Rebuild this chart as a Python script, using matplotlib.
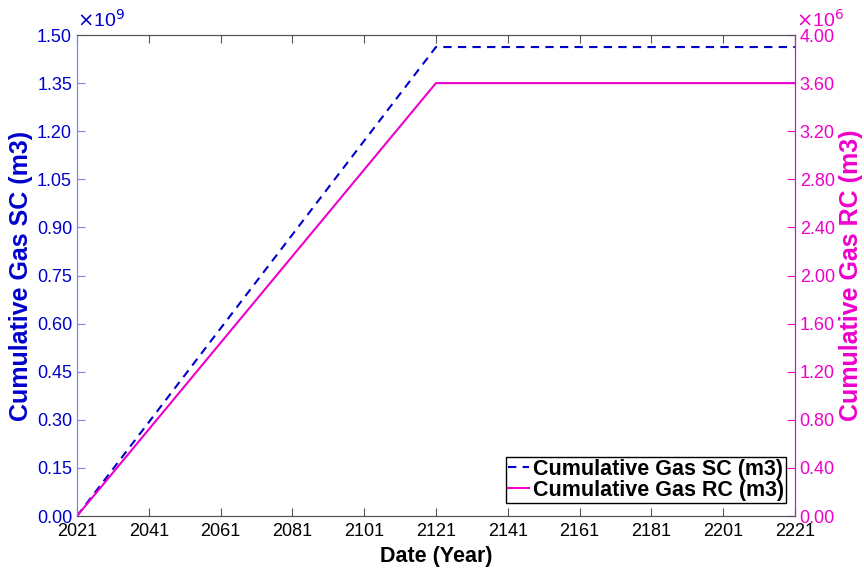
import matplotlib.pyplot as plt
from matplotlib.ticker import FuncFormatter, MultipleLocator

plt.rcParams['font.family'] = ['Liberation Sans', 'DejaVu Sans']

# cumulative gas production, breakpoints of the piecewise profile
years = [2021, 2121, 2221]
gas_sc = [0.0, 1.4625e9, 1.4625e9]   # m3 at surface conditions
gas_rc = [0.0, 3.6e6, 3.6e6]         # m3 at reservoir conditions
year_ticks = list(range(2021, 2222, 20))

blue = '#0000CC'
magenta = '#EE00CC'

fig = plt.figure(figsize=(8.64, 5.75), dpi=100)
ax = fig.add_axes([0.0891, 0.1026, 0.8309, 0.8365])
ax2 = ax.twinx()

l1, = ax.plot(years, gas_sc, color=blue, ls='--', lw=1.5, dashes=(4, 3),
              label='Cumulative Gas SC (m3)')
l2, = ax2.plot(years, gas_rc, color=magenta, lw=1.5,
               label='Cumulative Gas RC (m3)')

ax.set_xlim(2021, 2221)
ax.set_xticks(year_ticks)
ax.set_ylim(0, 1.5e9)
ax.yaxis.set_major_locator(MultipleLocator(0.15e9))
ax.yaxis.set_major_formatter(FuncFormatter(lambda v, p: f'{v / 1e9:.2f}'))
ax2.set_ylim(0, 4e6)
ax2.yaxis.set_major_locator(MultipleLocator(0.4e6))
ax2.yaxis.set_major_formatter(FuncFormatter(lambda v, p: f'{v / 1e6:.2f}'))

# spines and ticks
ax.tick_params(axis='x', direction='in', top=True, length=6, colors='#555555',
               labelcolor='black', labelsize=13, pad=5)
ax.tick_params(axis='y', direction='in', length=6, colors='#8080F0',
               labelcolor=blue, labelsize=13)
ax2.tick_params(axis='y', direction='in', length=6, colors=magenta,
                labelcolor=magenta, labelsize=13)
for a in (ax, ax2):
    a.spines['top'].set_color('#555555')
    a.spines['bottom'].set_color('#555555')
    a.spines['left'].set_color('#8080F0')
    a.spines['right'].set_color(magenta)

ax.set_xlabel('Date (Year)', fontsize=15.5, fontweight='bold', labelpad=4)
ax.set_ylabel('Cumulative Gas SC (m3)', fontsize=18, fontweight='bold',
              color=blue, labelpad=3)
ax2.set_ylabel('Cumulative Gas RC (m3)', fontsize=18, fontweight='bold',
               color=magenta, rotation=90, labelpad=3)

# exponent markers
ax.text(0.0, 1.008, r'$\times$10$^{9}$', transform=ax.transAxes,
        color=blue, fontsize=14, ha='left', va='bottom')
ax2.text(1.002, 1.008, r'$\times$10$^{6}$', transform=ax2.transAxes,
         color=magenta, fontsize=14, ha='left', va='bottom')

leg = ax2.legend(handles=[l1, l2], loc='lower right',
                 bbox_to_anchor=(0.9875, 0.027), fancybox=False,
                 edgecolor='black', framealpha=1, borderpad=0.1,
                 handlelength=1.0, handletextpad=0.15, labelspacing=0.0,
                 borderaxespad=0.0, prop={'weight': 'bold', 'size': 15.5})
leg.get_frame().set_linewidth(1.0)

fig.savefig('out.png', dpi=100)
